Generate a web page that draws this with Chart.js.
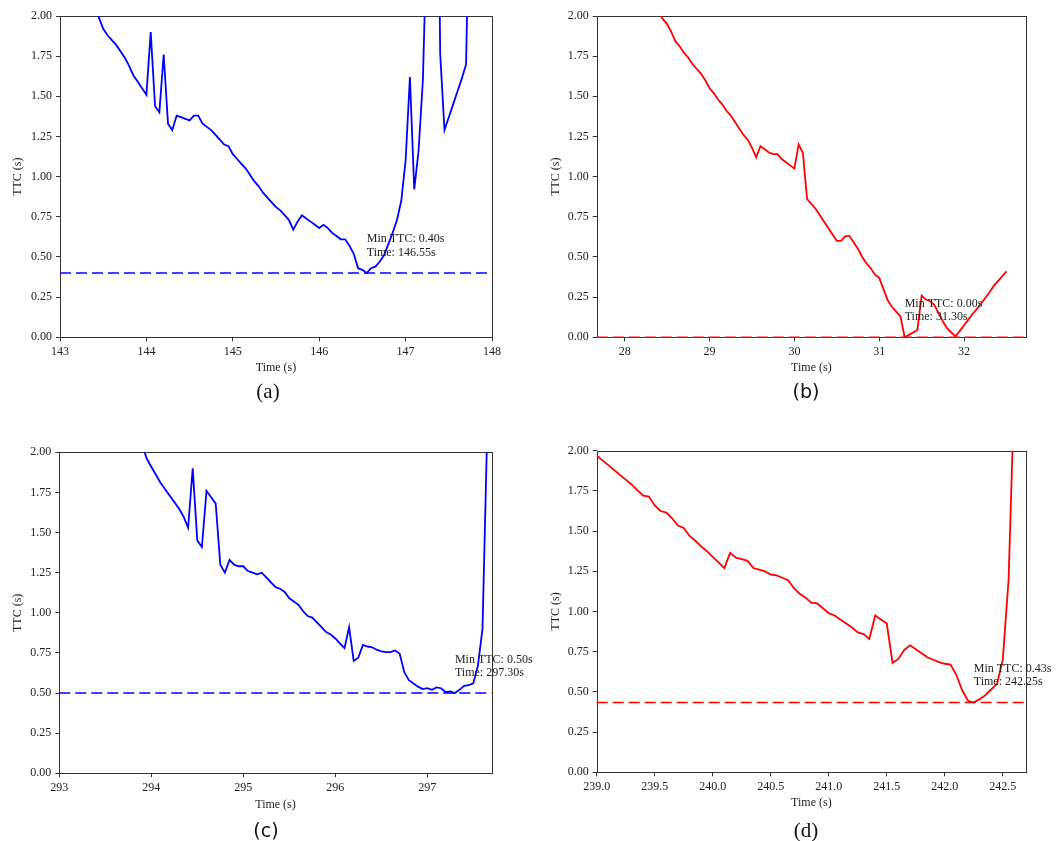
<!DOCTYPE html>
<html><head><meta charset="utf-8">
<script src="https://cdn.jsdelivr.net/npm/chart.js@4.4.1/dist/chart.umd.min.js"></script>
<style>
html,body{margin:0;padding:0;background:#fff;}
body{width:1056px;height:841px;position:relative;overflow:hidden;}
canvas{position:absolute;}
.cap{position:absolute;transform:translate(-50%,-50%);color:#111;white-space:nowrap;line-height:1;}
.serif{font-family:"Liberation Serif","Times New Roman",serif;font-size:21px;}
.sans{font-family:"DejaVu Sans",sans-serif;font-size:19px;}
</style></head><body>
<canvas id="ca" width="545" height="420" style="left:0;top:0"></canvas>
<canvas id="cb" width="526" height="420" style="left:530px;top:0"></canvas>
<canvas id="cc" width="545" height="421" style="left:0;top:420px"></canvas>
<canvas id="cd" width="526" height="421" style="left:530px;top:420px"></canvas>
<div class="cap serif" style="left:268px;top:391px">(a)</div>
<div class="cap sans" style="left:806px;top:391px">(b)</div>
<div class="cap sans" style="left:266px;top:830px">(c)</div>
<div class="cap serif" style="left:806px;top:830px">(d)</div>
<script>
// ---------- data ----------
const timeA = [
 143.40,143.45,143.50,143.55,143.60,143.65,143.70,143.75,143.80,143.85,
 143.90,143.95,144.00,144.05,144.10,144.15,144.20,144.25,144.30,144.35,
 144.40,144.45,144.50,144.55,144.60,144.65,144.70,144.75,144.80,144.85,
 144.90,144.95,145.00,145.05,145.10,145.15,145.20,145.25,145.30,145.35,
 145.40,145.45,145.50,145.55,145.60,145.65,145.70,145.75,145.80,145.85,
 145.90,145.95,146.00,146.05,146.10,146.15,146.20,146.25,146.30,146.35,
 146.40,146.45,146.50,146.55,146.60,146.65,146.70,146.75,146.80,146.85,
 146.90,146.95,147.00,147.05,147.10,147.15,147.20,147.25,147.30,147.35,
 147.40,147.45,147.50,147.55,147.60,147.65,147.70,147.75];
const ttcA = [
 2.10,1.99,1.92,1.88,1.85,1.82,1.78,1.74,1.69,1.63,
 1.59,1.55,1.51,1.90,1.44,1.40,1.76,1.33,1.29,1.38,
 1.37,1.36,1.35,1.38,1.38,1.33,1.31,1.29,1.26,1.23,
 1.20,1.19,1.14,1.11,1.08,1.05,1.01,0.97,0.94,0.90,
 0.87,0.84,0.81,0.79,0.76,0.73,0.67,0.72,0.76,0.74,
 0.72,0.70,0.68,0.70,0.68,0.65,0.63,0.61,0.61,0.57,
 0.52,0.43,0.42,0.40,0.43,0.44,0.47,0.51,0.58,0.65,
 0.73,0.85,1.10,1.62,0.92,1.16,1.60,2.60,3.20,4.50,
 1.77,1.29,1.37,1.45,1.53,1.61,1.70,3.10];

const timeB = [
 27.90,27.95,28.00,28.05,28.10,28.15,28.20,28.25,28.30,28.35,
 28.40,28.45,28.50,28.55,28.60,28.65,28.70,28.75,28.80,28.85,
 28.90,28.95,29.00,29.05,29.10,29.15,29.20,29.25,29.30,29.35,
 29.40,29.45,29.50,29.55,29.60,29.65,29.70,29.75,29.80,29.85,
 29.90,29.95,30.00,30.05,30.10,30.15,30.20,30.25,30.30,30.35,
 30.40,30.45,30.50,30.55,30.60,30.65,30.70,30.75,30.80,30.85,
 30.90,30.95,31.00,31.05,31.10,31.15,31.20,31.25,31.30,31.35,
 31.40,31.45,31.50,31.55,31.60,31.65,31.70,31.75,31.80,31.85,
 31.90,31.95,32.00,32.05,32.10,32.15,32.20,32.25,32.30,32.35,
 32.40,32.45,32.50];
const ttcB = [
 2.95,2.85,2.72,2.60,2.48,2.37,2.27,2.18,2.11,2.07,
 2.03,1.98,1.95,1.90,1.84,1.81,1.77,1.74,1.70,1.67,
 1.64,1.60,1.55,1.52,1.48,1.45,1.41,1.38,1.34,1.30,
 1.26,1.23,1.18,1.12,1.19,1.17,1.15,1.14,1.14,1.11,
 1.09,1.07,1.05,1.20,1.15,0.86,0.83,0.80,0.76,0.72,
 0.68,0.64,0.60,0.60,0.63,0.63,0.59,0.55,0.50,0.46,
 0.43,0.39,0.37,0.30,0.23,0.19,0.16,0.13,0.00,0.015,
 0.03,0.046,0.26,0.235,0.225,0.20,0.15,0.10,0.055,0.03,
 0.005,0.04,0.075,0.11,0.145,0.175,0.21,0.245,0.28,0.32,
 0.35,0.38,0.41];

const timeC = [
 293.90,293.95,294.00,294.05,294.10,294.15,294.20,294.25,294.30,294.35,
 294.40,294.45,294.50,294.55,294.60,294.65,294.70,294.75,294.80,294.85,
 294.90,294.95,295.00,295.05,295.10,295.15,295.20,295.25,295.30,295.35,
 295.40,295.45,295.50,295.55,295.60,295.65,295.70,295.75,295.80,295.85,
 295.90,295.95,296.00,296.05,296.10,296.15,296.20,296.25,296.30,296.35,
 296.40,296.45,296.50,296.55,296.60,296.65,296.70,296.75,296.80,296.85,
 296.90,296.95,297.00,297.05,297.10,297.15,297.20,297.25,297.30,297.35,
 297.40,297.45,297.50,297.55,297.60,297.65,297.70];
const ttcC = [
 2.05,1.96,1.91,1.86,1.81,1.77,1.73,1.69,1.65,1.60,
 1.53,1.90,1.45,1.41,1.76,1.72,1.68,1.30,1.25,1.33,
 1.30,1.29,1.29,1.26,1.25,1.24,1.25,1.22,1.19,1.16,
 1.15,1.13,1.09,1.07,1.05,1.01,0.98,0.97,0.94,0.91,
 0.88,0.865,0.84,0.81,0.78,0.91,0.70,0.72,0.80,0.79,
 0.785,0.77,0.76,0.755,0.755,0.765,0.745,0.63,0.58,0.56,
 0.54,0.525,0.53,0.52,0.535,0.53,0.505,0.51,0.50,0.52,
 0.545,0.55,0.56,0.67,0.90,2.10,3.00];

const timeD = [
 239.00,239.05,239.10,239.15,239.20,239.25,239.30,239.35,239.40,239.45,
 239.50,239.55,239.60,239.65,239.70,239.75,239.80,239.85,239.90,239.95,
 240.00,240.05,240.10,240.15,240.20,240.25,240.30,240.35,240.40,240.45,
 240.50,240.55,240.60,240.65,240.70,240.75,240.80,240.85,240.90,240.95,
 241.00,241.05,241.10,241.15,241.20,241.25,241.30,241.35,241.40,241.45,
 241.50,241.55,241.60,241.65,241.70,241.75,241.80,241.85,241.90,241.95,
 242.00,242.05,242.10,242.15,242.20,242.25,242.30,242.35,242.40,242.45,
 242.50,242.55,242.60];
const ttcD = [
 1.97,1.94,1.91,1.88,1.85,1.82,1.79,1.755,1.72,1.715,
 1.66,1.625,1.615,1.58,1.535,1.52,1.47,1.44,1.405,1.375,
 1.34,1.305,1.27,1.365,1.335,1.325,1.315,1.27,1.26,1.25,
 1.23,1.225,1.21,1.195,1.145,1.11,1.085,1.055,1.05,1.02,
 0.99,0.975,0.95,0.925,0.90,0.87,0.86,0.83,0.975,0.95,
 0.925,0.68,0.705,0.76,0.79,0.765,0.74,0.715,0.70,0.685,
 0.675,0.67,0.605,0.51,0.445,0.434,0.455,0.48,0.515,0.55,
 0.70,1.20,2.40];

const yTicks  = [0,0.25,0.5,0.75,1.0,1.25,1.5,1.75,2.0];
const xTicksA = [143,144,145,146,147,148];
const xTicksB = [28,29,30,31,32];
const xTicksC = [293,294,295,296,297];
const xTicksD = [239.0,239.5,240.0,240.5,241.0,241.5,242.0,242.5];

const xLimA = [143,148];
const xLimB = [27.67,32.73];
const xLimC = [293,297.7];
const xLimD = [239,242.7];

// ---------- drawing ----------
const FONT = '"Liberation Serif","Times New Roman",serif';
const TXT = '#222';

const framePlugin = {
  id:'frame',
  beforeDatasetsDraw(chart){
    const a = chart.chartArea, c = chart.ctx;
    c.save(); c.strokeStyle='#333'; c.lineWidth=1;
    c.strokeRect(Math.round(a.left)+0.5, Math.round(a.top)+0.5,
                 Math.round(a.right)-Math.round(a.left), Math.round(a.bottom)-Math.round(a.top));
    c.restore();
  }
};

function makePanel(id, times, ttc, color, xlim, xticks, xdec, g){
  const n = Math.min(times.length, ttc.length);
  let vmin = Infinity, tmin = null;
  for (let i=0;i<n;i++){ if (ttc[i] < vmin){ vmin = ttc[i]; tmin = times[i]; } }
  const pts = [];
  for (let i=0;i<n;i++) pts.push({x:times[i], y:ttc[i]});
  const annot = {
    id:'annot'+id,
    afterDatasetsDraw(chart){
      const xs = chart.scales.x, ys = chart.scales.y, c = chart.ctx;
      const x = xs.getPixelForValue(tmin), y = ys.getPixelForValue(vmin + 0.1);
      c.save();
      c.font = '12px ' + FONT; c.fillStyle = TXT; c.textAlign='left'; c.textBaseline='alphabetic';
      c.fillText('Time: ' + tmin.toFixed(2) + 's', x, y - 1);
      c.fillText('Min TTC: ' + vmin.toFixed(2) + 's', x, y - 14.5);
      c.restore();
    }
  };
  const tickFont = {family:FONT, size:12};
  new Chart(document.getElementById(id), {
    type:'line',
    data:{datasets:[
      {data:pts, borderColor:color, borderWidth:1.8, pointRadius:0, tension:0, fill:false},
      {data:[{x:xlim[0], y:vmin},{x:xlim[1], y:vmin}], borderColor:color, borderWidth:1.6,
       borderDash:[11,5], pointRadius:0, fill:false, clip:false}
    ]},
    options:{
      responsive:false, animation:false, events:[],
      layout:{padding:{left:0, top:g.top, right:g.right, bottom:0}},
      plugins:{legend:{display:false}, tooltip:{enabled:false}},
      scales:{
        x:{
          type:'linear', min:xlim[0], max:xlim[1],
          afterBuildTicks:s=>{ s.ticks = xticks.map(v=>({value:v})); },
          afterFit:s=>{ s.height = g.xh; },
          ticks:{font:tickFont, color:TXT, padding:3, maxRotation:0, autoSkip:false,
                 callback:v=>Number(v).toFixed(xdec)},
          grid:{drawOnChartArea:false, drawTicks:true, tickLength:4, color:'#333', lineWidth:1},
          border:{display:false},
          title:{display:true, text:'Time (s)', font:tickFont, color:TXT, padding:{top:0, bottom:g.xtp}}
        },
        y:{
          type:'linear', min:0, max:2,
          afterBuildTicks:s=>{ s.ticks = yTicks.map(v=>({value:v})); },
          afterFit:s=>{ s.width = g.L; },
          ticks:{font:tickFont, color:TXT, padding:4, autoSkip:false,
                 callback:v=>Number(v).toFixed(2)},
          grid:{drawOnChartArea:false, drawTicks:true, tickLength:4, color:'#333', lineWidth:1},
          border:{display:false},
          title:{display:true, text:'TTC (s)', font:tickFont, color:TXT, padding:{top:g.ytp, bottom:0}}
        }
      }
    },
    plugins:[framePlugin, annot]
  });
}

makePanel('ca', timeA, ttcA, '#0000ff', xLimA, xTicksA, 0, {L:60,   right:53,   top:16,   xh:82.7, xtp:44.5, ytp:10.3});
makePanel('cb', timeB, ttcB, '#ff0000', xLimB, xTicksB, 0, {L:66.7, right:30,   top:16,   xh:82.7, xtp:44.5, ytp:18.8});
makePanel('cc', timeC, ttcC, '#0000ff', xLimC, xTicksC, 0, {L:59.3, right:53.3, top:32.3, xh:67.7, xtp:28.8, ytp:11.1});
makePanel('cd', timeD, ttcD, '#ff0000', xLimD, xTicksD, 1, {L:66.7, right:30,   top:30.7, xh:68.7, xtp:30.5, ytp:18.8});
</script>
</body></html>
